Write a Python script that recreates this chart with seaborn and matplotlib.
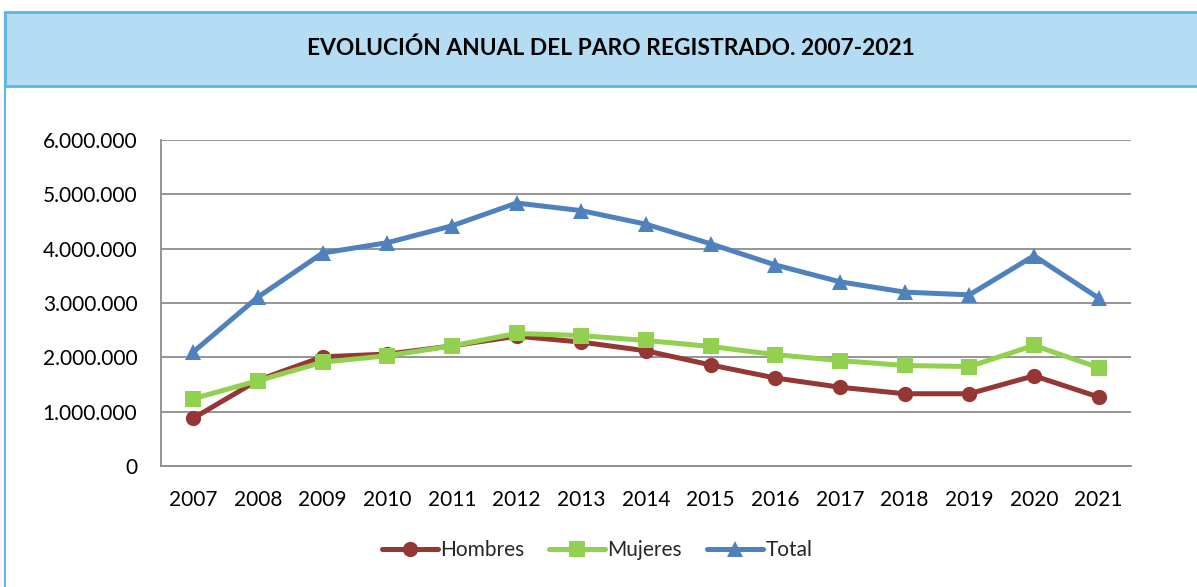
import numpy as np
import pandas as pd
import matplotlib
matplotlib.use("Agg")
import matplotlib.pyplot as plt
import seaborn as sns
from matplotlib.patches import Rectangle
from matplotlib.lines import Line2D
from matplotlib.ticker import FuncFormatter

# data (registered unemployment)
years = [str(y) for y in range(2007, 2022)]
hombres = [0.88, 1.58, 2.01, 2.06, 2.21, 2.39, 2.28, 2.12, 1.86, 1.62, 1.45, 1.33, 1.33, 1.66, 1.27]
mujeres = [1.24, 1.57, 1.91, 2.03, 2.21, 2.44, 2.40, 2.31, 2.20, 2.05, 1.94, 1.85, 1.83, 2.22, 1.81]
total = [2.10, 3.11, 3.92, 4.11, 4.42, 4.84, 4.70, 4.45, 4.09, 3.70, 3.39, 3.20, 3.15, 3.87, 3.09]
series = ["Hombres", "Mujeres", "Total"]
colors = {"Hombres": "#953735", "Mujeres": "#92D050", "Total": "#4F81BD"}
markers = {"Hombres": "o", "Mujeres": "s", "Total": "^"}

df = pd.DataFrame({"year": years, "Hombres": hombres, "Mujeres": mujeres, "Total": total})
df["pos"] = np.arange(len(years))
long = df.melt(id_vars=["year", "pos"], value_vars=series, var_name="serie", value_name="valor")
long["valor"] = long["valor"] * 1e6

sns.set_style("white")
plt.rcParams["font.family"] = ["Lato", "DejaVu Sans"]

fig = plt.figure(figsize=(11.97, 5.87), dpi=100)
W, H = 1197, 587

# title band and frame
band = Rectangle((5 / W, (H - 86) / H), 1.2, 74 / H, transform=fig.transFigure,
                 facecolor="#B4DCF2", edgecolor="#5DB6E8", linewidth=2, zorder=0)
fig.patches.append(band)
fig.add_artist(Line2D([5 / W, 5 / W], [0, (H - 12) / H], transform=fig.transFigure,
                      color="#5DB6E8", linewidth=1.5))
fig.text(611 / W, (H - 48) / H, "EVOLUCIÓN ANUAL DEL PARO REGISTRADO. 2007-2021",
         ha="center", va="center", fontsize=16.4, fontweight="bold", color="black")

ax = fig.add_axes([161 / W, (H - 466) / H, (1131 - 161) / W, (466 - 140) / H])
sns.lineplot(data=long, x="pos", y="valor", hue="serie", style="serie",
             palette=colors, markers=markers, dashes=False, linewidth=3.6,
             markersize=11, markeredgewidth=0, ax=ax, legend=False)

ax.set_xlim(-0.5, len(years) - 0.5)
ax.set_ylim(0, 6e6)
ax.set_xticks(df["pos"])
ax.set_xticklabels(years)
ax.set_yticks(np.arange(0, 6.1e6, 1e6))
ax.yaxis.set_major_formatter(FuncFormatter(lambda v, p: f"{int(v):,}".replace(",", ".")))
ax.set_xlabel("")
ax.set_ylabel("")
ax.grid(axis="y", color="#8C8C8C", linewidth=1.3)
ax.set_axisbelow(True)
for s in ["top", "right"]:
    ax.spines[s].set_visible(False)
for s in ["left", "bottom"]:
    ax.spines[s].set_color("#8C8C8C")
    ax.spines[s].set_linewidth(1.3)
ax.tick_params(axis="both", length=0, labelsize=15, colors="black")
ax.tick_params(axis="y", pad=17)
ax.tick_params(axis="x", pad=17)

handles = [Line2D([], [], color=colors[s], marker=markers[s], linewidth=3.6,
                  markersize=11, markeredgewidth=0) for s in series]
fig.legend(handles, series, loc="center", bbox_to_anchor=(597 / W, (H - 550) / H),
           ncol=3, frameon=False, fontsize=15, handlelength=2.7, handletextpad=0.1,
           columnspacing=1.2)

fig.savefig("out.png", dpi=100)
